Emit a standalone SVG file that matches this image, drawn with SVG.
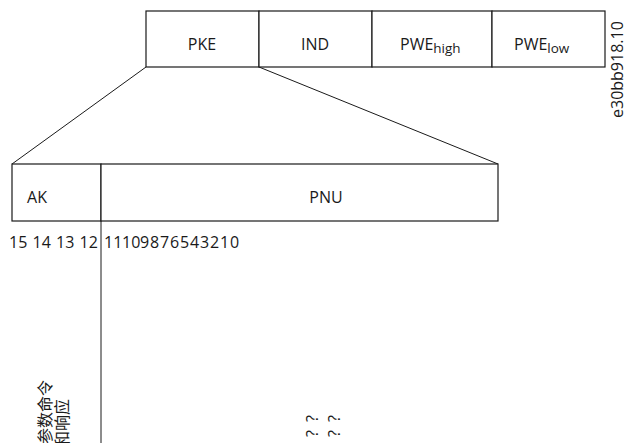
<svg xmlns="http://www.w3.org/2000/svg" width="630" height="443" viewBox="0 0 630 443">
<style>
.box{fill:#fff;stroke:#1a1a1a;stroke-width:1.2}
.ln{fill:none;stroke:#1a1a1a;stroke-width:1}
.t{font-family:"Open Sans","Liberation Sans",sans-serif;font-size:16px;fill:#1a1a1a}
.c{text-anchor:middle}
.cjk{font-family:"Noto Sans CJK SC",sans-serif;font-size:16px;fill:#1a1a1a}
</style>
<rect width="630" height="443" fill="#fff"/>
<g id="connectors">
<line class="ln" x1="146" y1="67" x2="12" y2="164"/>
<line class="ln" x1="259" y1="67" x2="498" y2="164"/>
<line class="ln" x1="101" y1="164" x2="101" y2="443" stroke="#555"/>
</g>
<g id="pke"><rect class="box" x="146" y="11" width="113" height="56"/><text class="t c" x="202" y="50">PKE</text></g>
<g id="ind"><rect class="box" x="259" y="11" width="113" height="56"/><text class="t c" x="315" y="50">IND</text></g>
<g id="pwehigh"><rect class="box" x="372" y="11" width="120" height="56"/><text class="t" x="400" y="50">PWE<tspan font-size="13.5" dy="3">high</tspan></text></g>
<g id="pwelow"><rect class="box" x="492" y="11" width="113" height="56"/><text class="t" x="514" y="50">PWE<tspan font-size="13.5" dy="3">low</tspan></text></g>
<g id="ak"><rect class="box" x="12" y="164" width="89" height="57"/><text class="t c" x="37" y="203">AK</text></g>
<g id="pnu"><rect class="box" x="101" y="164" width="397" height="57"/><text class="t c" x="326" y="203">PNU</text></g>
<g id="bits">
<text class="t" font-size="13" y="248"><tspan x="9">15</tspan> <tspan x="32.5">14</tspan> <tspan x="56">13</tspan> <tspan x="79.5">12</tspan></text>
<text class="t" font-size="13" y="248"><tspan x="104">11</tspan> <tspan x="122">10</tspan> <tspan x="140">9</tspan> <tspan x="150">8</tspan> <tspan x="160">7</tspan> <tspan x="170">6</tspan> <tspan x="180">5</tspan> <tspan x="190">4</tspan> <tspan x="200">3</tspan> <tspan x="210">2</tspan> <tspan x="220">1</tspan> <tspan x="230">0</tspan></text>
</g>
<g id="label-cjk">
<text class="cjk" transform="translate(51,444) rotate(-90)">参数命令</text>
<text class="cjk" transform="translate(68,447) rotate(-90)">和响应</text>
</g>
<g id="label-q">
<text class="t" letter-spacing="8" transform="translate(318,437) rotate(-90)">??</text>
<text class="t" letter-spacing="8" transform="translate(340,437) rotate(-90)">??</text>
</g>
<text class="t" font-size="16" transform="translate(623,118) rotate(-90)">e30bb918.10</text>
</svg>
